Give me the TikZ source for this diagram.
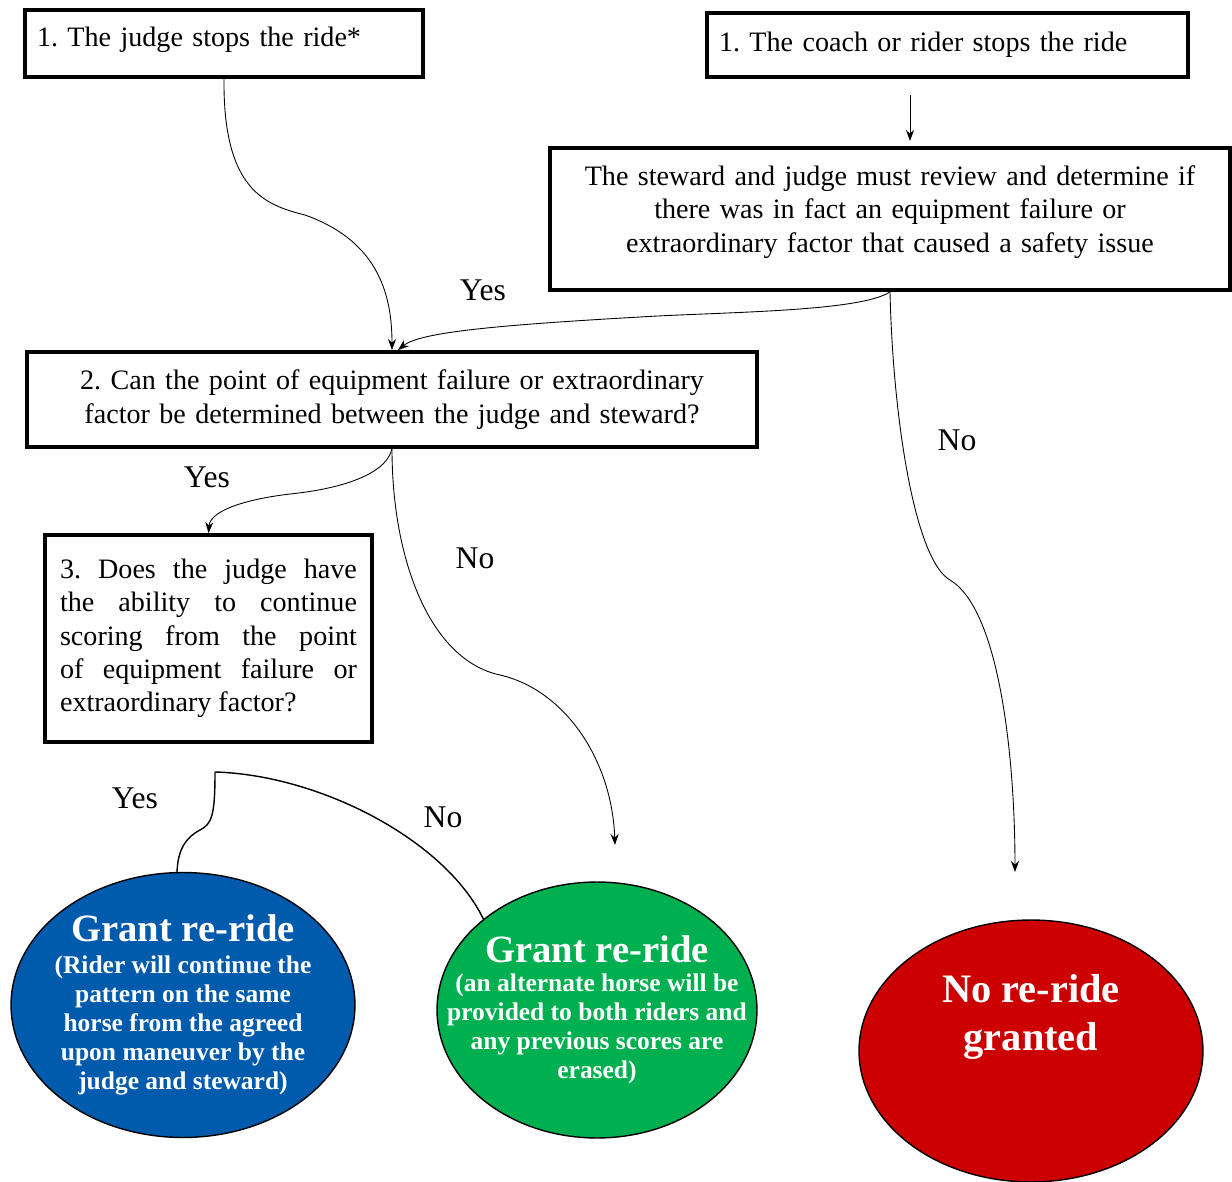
\documentclass[tikz,border=0pt]{standalone}
\usepackage{fontspec}
\setmainfont{Liberation Serif}
\usetikzlibrary{shapes.geometric,arrows.meta}
\definecolor{rideblue}{RGB}{0,91,172}
\definecolor{ridegreen}{RGB}{0,176,80}
\definecolor{ridered}{RGB}{204,0,0}
\frenchspacing

\begin{document}
\begin{tikzpicture}[x=0.02cm,y=-0.02cm,
    stepbox/.style={draw,line width=2.2pt,inner sep=0pt,font=\fontsize{16}{19}\selectfont},
    bubble/.style={draw,ellipse,line width=0.8pt,inner sep=0pt},
    bubtext/.style={text=white,font=\bfseries\fontsize{14.5}{16.5}\selectfont,align=center},
    flow/.style={line width=0.5pt,-{Stealth[length=2.2mm,width=1.6mm]}},
    answer/.style={font=\fontsize{18}{20}\selectfont}]
    \useasboundingbox (0,0) rectangle (1232,1182);
    % Boxes
    \node[stepbox,minimum width=7.96cm,minimum height=1.34cm,text width=7.48cm,text depth=0.26cm,align=left] (judge) at (224,43.5) {1. The judge stops the ride*};
    \node[stepbox,minimum width=9.62cm,minimum height=1.28cm,text width=9.14cm,align=left] (coach) at (947.5,45) {1. The coach or rider stops the ride};
    \node[stepbox,minimum width=13.6cm,minimum height=2.84cm,text width=13.2cm,text depth=1.74cm,align=center] (steward) at (890,219) {The steward and judge must review and determine if\\ there was in fact an equipment failure or\\ extraordinary factor that caused a safety issue};
    \node[stepbox,minimum width=14.6cm,minimum height=1.9cm,text width=14.2cm,align=center] (point) at (392,399.5) {2. Can the point of equipment failure or extraordinary\\ factor be determined between the judge and steward?};
    \node[stepbox,minimum width=6.54cm,minimum height=4.14cm,text width=5.94cm,align=justify] (ability) at (208.5,638.5) {3. Does the judge have\linebreak the ability to continue\linebreak scoring from the point\linebreak of equipment failure or\linebreak extraordinary factor?};
    % Outcomes
    \node[bubble,fill=rideblue,minimum width=6.88cm,minimum height=5.3cm] (same) at (183,1005) {};
    \node[bubtext] (sametext) at (same.center) {{\fontsize{22}{26}\selectfont Grant re-ride}\\[2pt] (Rider will continue the\\ pattern on the same\\ horse from the agreed\\ upon maneuver by the\\ judge and steward)};
    \node[bubble,fill=ridegreen,minimum width=6.4cm,minimum height=5.12cm] (alt) at (597,1010) {};
    \node[bubtext] (alttext) at (alt.center) {{\fontsize{22}{26}\selectfont Grant re-ride}\\[0pt] (an alternate horse will be\\ provided to both riders and\\ any previous scores are\\ erased)};
    \node[bubble,fill=ridered,minimum width=6.88cm,minimum height=5.24cm] (none) at (1031,1051) {};
    \node[bubtext,font=\bfseries\fontsize{23}{27}\selectfont] (nonetext) at (1031,1017) {No re-ride\\ granted};
    % Loose ends
    \coordinate (cdown) at (910,95);
    \coordinate (sup) at (910,141);
    \coordinate (noend) at (1015,872);
    \coordinate (altend) at (615,845);
    \coordinate (fork) at (215,772);
    % Connectors
    \draw[flow] (cdown) -- (sup);
    \draw[flow] (judge.south) .. controls (223,190) and (265,205) .. (305,215) .. controls (375,240) and (392,290) .. (point.north);
    \draw[flow] (steward.south) .. controls (860,312) and (720,312) .. (640,317) .. controls (500,325) and (420,332) .. ([xshift=0.12cm]point.north);
    \draw[flow] (steward.south) .. controls (893,420) and (915,560) .. (950,580) .. controls (1000,610) and (1015,760) .. (noend);
    \draw[flow] (point.south) .. controls (385,478) and (330,490) .. (290,494) .. controls (240,500) and (210,512) .. (ability.north);
    \draw[flow] (point.south) .. controls (392,560) and (430,660) .. (500,675) .. controls (565,690) and (612,760) .. (altend);
    \draw[line width=0.8pt] (fork) .. controls (215,815) and (212,824) .. (200,830) .. controls (185,838) and (178,850) .. ([xshift=-0.12cm]same.north);
    \draw[line width=0.8pt] (fork) .. controls (320,775) and (445,840) .. (alt.north west);
    % Answers
    \node[answer] (yes1) at (483,290) {Yes};
    \node[answer] (no1) at (957,440) {No};
    \node[answer] (yes2) at (207,477) {Yes};
    \node[answer] (no2) at (475,558) {No};
    \node[answer] (yes3) at (135,798) {Yes};
    \node[answer] (no3) at (443,817) {No};
\end{tikzpicture}
\end{document}
